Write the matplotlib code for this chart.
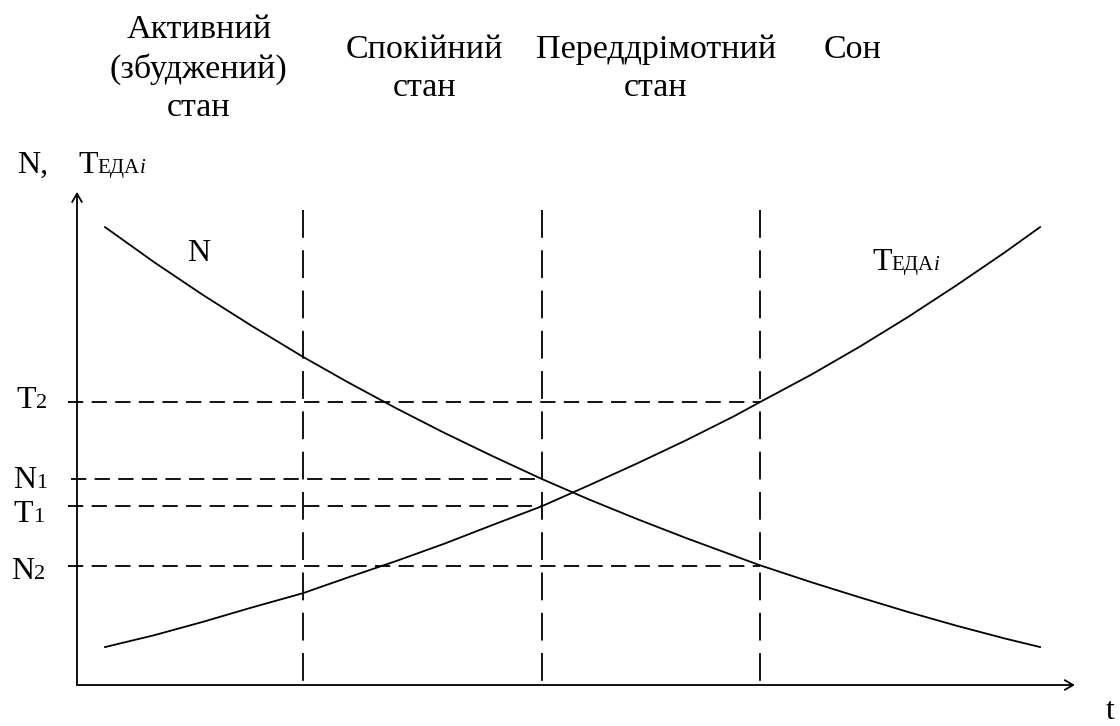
import matplotlib
matplotlib.use('Agg')
import matplotlib.pyplot as plt
import matplotlib.transforms as mtransforms

plt.rcParams['font.family'] = ['Liberation Serif', 'DejaVu Serif']
plt.rcParams['lines.scale_dashes'] = False

# time points along the curves
t_pts = [0.29, 0.8, 1.3, 1.8, 2.34, 2.8, 3.3, 3.8, 4.3, 4.81, 5.3,
         5.8, 6.3, 6.8, 7.07, 7.6, 8.1, 8.6, 9.1, 9.6, 9.97]
# curve N (decreasing)
n_vals = [10.02, 9.25, 8.54, 7.87, 7.18, 6.63, 6.06, 5.52, 5.01, 4.51, 4.06,
          3.63, 3.22, 2.83, 2.62, 2.25, 1.92, 1.60, 1.30, 1.02, 0.83]
# curve T_EDA (increasing)
teda_vals = [0.83, 1.09, 1.38, 1.69, 2.01, 2.35, 2.71, 3.09, 3.50, 3.91, 4.37,
             4.85, 5.35, 5.88, 6.19, 6.79, 7.40, 8.05, 8.74, 9.46, 10.02]

# state borders on the time axis
t_states = [2.34, 4.81, 7.07]
N1, N2 = 4.51, 2.60
T1, T2 = 3.91, 6.19

states = ['Активний\n(збуджений)\nстан', 'Спокійний\nстан', 'Переддрімотний\nстан', 'Сон']
state_x = [1.26, 3.60, 5.99, 8.03]

BIG, SMALL = 23, 15
HEAD = 24.5
lw = 1.3

fig = plt.figure(figsize=(11.2, 7.26), dpi=100)
ax = fig.add_axes([0, 0, 1, 1])
ax.set_xlim(-0.797, 10.797)
ax.set_ylim(-0.897, 14.989)
ax.axis('off')


def rich(x, y, parts, ha='left', dy=0):
    # draws a label made of pieces with different sizes on one baseline
    r = fig.canvas.get_renderer()
    items = []
    off = 0
    for s, size, style in parts:
        tx = ax.text(x, y, s, fontsize=size, style=style, ha='left', va='baseline')
        w = tx.get_window_extent(r).width
        items.append((tx, off))
        off += w
    shift = -off if ha == 'right' else 0
    for tx, o in items:
        tx.set_transform(mtransforms.offset_copy(ax.transData, fig=fig, x=o + shift, y=dy, units='dots'))


# axes with arrows
arrow = dict(arrowstyle='->,head_length=0.6,head_width=0.35', lw=lw, color='k', shrinkA=0, shrinkB=0)
ax.annotate('', xy=(0, 10.79), xytext=(0, 0), arrowprops=arrow)
ax.annotate('', xy=(10.33, 0), xytext=(0, 0), arrowprops=arrow)

# curves
ax.plot(t_pts, n_vals, color='k', lw=lw)
ax.plot(t_pts, teda_vals, color='k', lw=lw)

# vertical dashed borders
for ts in t_states:
    ax.plot([ts, ts], [10.4, 0], color='k', lw=lw, dashes=(20, 9))

# horizontal dashed levels
ax.plot([-0.09, t_states[2]], [T2, T2], color='k', lw=lw, dashes=(11, 6))
ax.plot([-0.06, t_states[1]], [N1, N1], color='k', lw=lw, dashes=(11, 6))
ax.plot([-0.09, t_states[1]], [T1, T1], color='k', lw=lw, dashes=(11, 6))
ax.plot([-0.09, t_states[2]], [N2, N2], color='k', lw=lw, dashes=(11, 6))

# level labels on the left
rich(-0.31, T2, [('T', BIG, 'normal'), ('2', SMALL + 1, 'normal')], ha='right', dy=-6)
rich(-0.31, N1, [('N', BIG, 'normal'), ('1', SMALL + 1, 'normal')], ha='right', dy=-9)
rich(-0.34, T1, [('T', BIG, 'normal'), ('1', SMALL + 1, 'normal')], ha='right', dy=-16)
rich(-0.33, N2, [('N', BIG, 'normal'), ('2', SMALL + 1, 'normal')], ha='right', dy=-13)

# axis titles
ax.text(-0.62, 11.2, 'N,', fontsize=BIG, ha='left', va='baseline')
rich(0.01, 11.2, [('Т', BIG, 'normal'), ('ЕДА', SMALL, 'normal'), ('i', SMALL, 'italic')])
ax.text(10.70, -0.74, 't', fontsize=BIG, ha='center', va='baseline')

# curve labels
ax.text(1.14, 9.28, 'N', fontsize=BIG, ha='left', va='baseline')
rich(8.23, 9.08, [('Т', BIG, 'normal'), ('ЕДА', SMALL, 'normal'), ('i', SMALL, 'italic')])

# state names above the chart
for i, s in enumerate(states):
    yc = 13.90 if s == 'Сон' else 13.48
    ax.text(state_x[i], yc, s, fontsize=HEAD, ha='center', va='center', linespacing=1.32)

fig.savefig('out.png', dpi=100)
